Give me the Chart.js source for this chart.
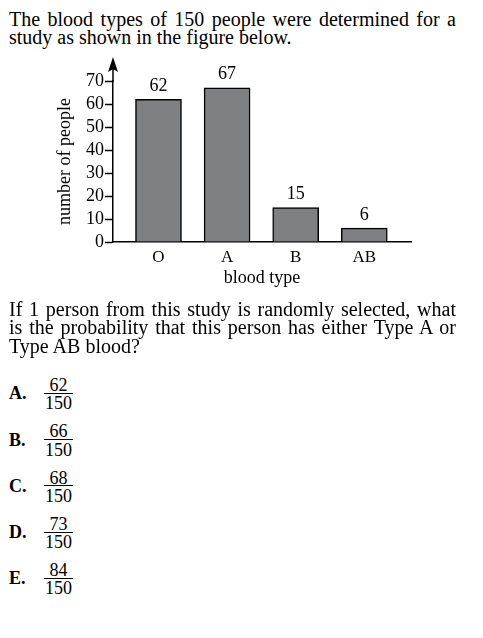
<!DOCTYPE html>
<html>
<head>
<meta charset="utf-8">
<script src="https://cdn.jsdelivr.net/npm/chart.js@4/dist/chart.umd.min.js"></script>
<style>
  html, body { margin:0; padding:0; background:#fff; }
  body { width:483px; height:638px; position:relative; overflow:hidden; font-family:"Liberation Serif","Times New Roman",serif; color:#000; }
  .para { position:absolute; left:9px; width:447px; font-size:20px; line-height:18.7px; }
  .line { white-space:nowrap; text-align:justify; text-align-last:justify; }
  .line.last { text-align:left; text-align-last:left; }
  .abs { position:absolute; white-space:nowrap; }
  .letter { font-weight:bold; font-size:18px; line-height:18px; left:9px; }
  .num { font-size:18px; line-height:18px; width:29px; left:44px; text-align:center; }
  .bar { left:44px; width:29px; height:1px; background:#000; }
  #chartCanvas { position:absolute; left:0; top:50px; }
</style>
</head>
<body>
<div class="para" style="top:9.6px">
  <div class="line">The blood types of 150 people were determined for a</div>
  <div class="line last">study as shown in the figure below.</div>
</div>
<canvas id="chartCanvas" width="440" height="250" style="width:440px;height:250px"></canvas>
<div class="para" style="top:299.6px">
  <div class="line">If 1 person from this study is randomly selected, what</div>
  <div class="line">is the probability that this person has either Type A or</div>
  <div class="line last">Type AB blood?</div>
</div>
<div id="opts"></div>
<script>
// ---- chart data ----
const categories = ['O', 'A', 'B', 'AB'];
const counts = [62, 67, 15, 6];
const yTicks = [0, 10, 20, 30, 40, 50, 60, 70];

// ---- answer choices ----
const choiceLetters = ['A.', 'B.', 'C.', 'D.', 'E.'];
const choiceNumerators = ['62', '66', '68', '73', '84'];
const choiceDenominator = '150';

(function buildOptions() {
  const host = document.getElementById('opts');
  const base0 = 399.3, step = 46.3;
  choiceLetters.forEach((l, i) => {
    const b = base0 + step * i;
    const L = document.createElement('div');
    L.className = 'abs letter'; L.textContent = l; L.style.top = (b - 15.08) + 'px';
    const N = document.createElement('div');
    N.className = 'abs num'; N.textContent = choiceNumerators[i]; N.style.top = (b - 8.3 - 15.08) + 'px';
    const B = document.createElement('div');
    B.className = 'abs bar'; B.style.top = (b - 6.5) + 'px';
    const D = document.createElement('div');
    D.className = 'abs num'; D.textContent = choiceDenominator; D.style.top = (b + 10 - 15.08) + 'px';
    host.appendChild(L); host.appendChild(N); host.appendChild(B); host.appendChild(D);
  });
})();

const serif = 'Liberation Serif';

const valueLabels = {
  id: 'valueLabels',
  afterDatasetsDraw(chart) {
    const ctx = chart.ctx;
    const meta = chart.getDatasetMeta(0);
    ctx.save();
    ctx.fillStyle = '#000';
    ctx.font = '18px "' + serif + '"';
    ctx.textAlign = 'center';
    ctx.textBaseline = 'alphabetic';
    meta.data.forEach((el, i) => {
      ctx.fillText(String(counts[i]), el.x, el.y - 8.5);
    });
    ctx.restore();
  }
};

const axisArrow = {
  id: 'axisArrow',
  afterDraw(chart) {
    const ctx = chart.ctx;
    const a = chart.chartArea;
    const x = a.left;
    ctx.save();
    ctx.strokeStyle = '#000';
    ctx.fillStyle = '#000';
    ctx.lineWidth = 1.5;
    ctx.beginPath();
    ctx.moveTo(x, a.top + 1);
    ctx.lineTo(x, a.top - 14);
    ctx.stroke();
    ctx.beginPath();
    ctx.moveTo(x, a.top - 24);
    ctx.lineTo(x + 5, a.top - 9);
    ctx.lineTo(x, a.top - 12);
    ctx.lineTo(x - 5, a.top - 9);
    ctx.closePath();
    ctx.fill();
    ctx.restore();
  }
};

new Chart(document.getElementById('chartCanvas').getContext('2d'), {
  type: 'bar',
  data: {
    datasets: [{
      data: counts.map((v, i) => ({ x: i, y: v })),
      backgroundColor: '#7f8084',
      borderColor: '#000',
      borderWidth: 1.5,
      barThickness: 46
    }]
  },
  options: {
    responsive: false,
    animation: false,
    devicePixelRatio: 1,
    layout: { padding: { top: 31, right: 29, left: 0, bottom: 0 } },
    plugins: { legend: { display: false }, tooltip: { enabled: false } },
    scales: {
      x: {
        type: 'linear',
        offset: false,
        min: -0.663,
        max: 3.681,
        afterBuildTicks: s => { s.ticks = categories.map((c, i) => ({ value: i })); },
        afterFit: s => { s.height = 58; },
        ticks: {
          callback: v => categories[v],
          font: { family: serif, size: 17 },
          color: '#000',
          padding: 5,
          maxRotation: 0,
          autoSkip: false
        },
        grid: { display: true, offset: false, drawOnChartArea: false, drawTicks: false, color: 'rgba(0,0,0,0)' },
        border: { display: true, color: '#000', width: 1.5 },
        title: {
          display: true, text: 'blood type',
          font: { family: serif, size: 18 }, color: '#000',
          padding: { top: 0, bottom: 11 }
        }
      },
      y: {
        min: 0,
        max: 70,
        afterBuildTicks: s => { s.ticks = yTicks.map(v => ({ value: v })); },
        afterFit: s => { s.width = 113; },
        ticks: { font: { family: serif, size: 18 }, color: '#000', padding: 1, autoSkip: false },
        grid: { drawOnChartArea: false, drawTicks: true, tickLength: 8, tickColor: '#000', tickWidth: 1.5, color: 'rgba(0,0,0,0)' },
        border: { display: true, color: '#000', width: 1.5 },
        title: {
          display: true, text: 'number of people',
          font: { family: serif, size: 18 }, color: '#000',
          padding: { top: 54, bottom: 0 }
        }
      }
    }
  },
  plugins: [valueLabels, axisArrow]
});
</script>
</body>
</html>
